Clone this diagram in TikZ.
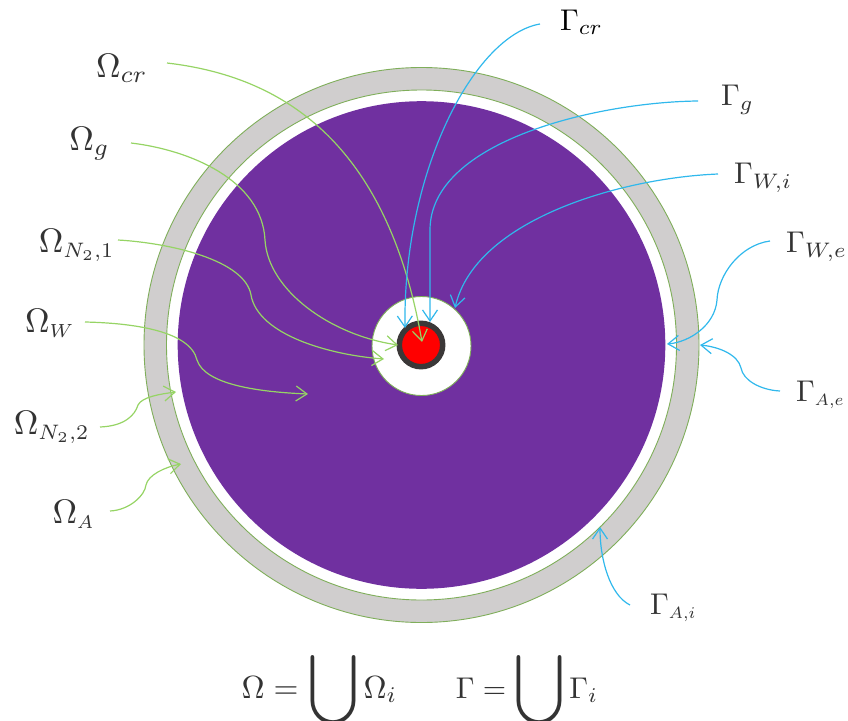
\documentclass[tikz,border=0pt]{standalone}
\usepackage{graphicx}
\usetikzlibrary{arrows.meta}
\definecolor{gfill}{HTML}{D0CECE}
\definecolor{ringline}{HTML}{7FAE5A}
\definecolor{wall}{HTML}{7030A0}
\definecolor{clad}{HTML}{3B3838}
\definecolor{txt}{HTML}{333333}
\definecolor{garrow}{HTML}{96D465}
\definecolor{barrow}{HTML}{30B8EC}
\newcommand{\osym}[1]{\scalebox{3.4}{$#1$}}
\newcommand{\gsym}[1]{\scalebox{3}{$#1$}}
\newcommand{\subs}[2]{\scalebox{#1}{$\scriptstyle #2$}}
\newcommand{\bigU}{\raisebox{-5pt}{\scalebox{4.5}[4.95]{$\displaystyle\bigcup$}}}
\tikzset{
  lab/.style={inner sep=0pt,anchor=east,text=txt},
  labr/.style={inner sep=0pt,anchor=west,text=txt},
  eq/.style={inner sep=0pt,anchor=base,text=txt},
  ring/.style={draw=ringline,line width=0.9pt},
  greenarrow/.style={draw=garrow,line width=1.2pt,-{Straight Barb[length=11pt,width=15pt,line width=1.2pt]}},
  bluearrow/.style={draw=barrow,line width=1.2pt,-{Straight Barb[length=11pt,width=15pt,line width=1.2pt]}}
}
\begin{document}
\begin{tikzpicture}[x=1pt,y=-1pt]
\useasboundingbox (0,0) rectangle (848,720);
% discs
\filldraw[ring,fill=gfill] (421.5,345) circle[radius=277.5];
\filldraw[ring,fill=white] (421.5,345) circle[radius=255];
\fill[wall] (421.5,345) circle[radius=243.8];
\filldraw[ring,fill=white] (421.5,346) circle[radius=49.5];
\filldraw[draw=clad,fill=red,line width=5.5pt] (421,345) circle[radius=21.7];
% labels
\node[lab] (Ocr) at (148,68) {\osym{\Omega_{cr}}};
\node[lab] (Og) at (110,144) {\osym{\Omega_{g}}};
\node[lab] (On1) at (115,245) {\osym{\Omega_{\subs{.88}{N_2,1}}}};
\node[lab] (Ow) at (75,323) {\osym{\Omega_{\subs{.8}{W}}}};
\node[lab] (On2) at (90,427) {\osym{\Omega_{\subs{.88}{N_2,2}}}};
\node[lab] (Oa) at (95,514) {\osym{\Omega_{\subs{.78}{A}}}};
\node[labr,text=black] (Gcr) at (560,22) {\gsym{\Gamma_{cr}}};
\node[labr] (Gg) at (721,100) {\gsym{\Gamma_{g}}};
\node[labr] (Gwi) at (734,178) {\gsym{\Gamma_{W,i}}};
\node[labr] (Gwe) at (786,247) {\gsym{\Gamma_{W,e}}};
\node[labr] (Gae) at (796,395) {\gsym{\Gamma_{\subs{.78}{A,e}}}};
\node[labr] (Gai) at (650,608) {\gsym{\Gamma_{\subs{.78}{A,i}}}};
\node[eq] (EqO) at (319.5,698) {\scalebox{3.2}{$\Omega=$}\hspace{10pt}\bigU\hspace{5pt}\scalebox{3.2}{$\Omega_i$}};
\node[eq] (EqG) at (527,698) {\gsym{\Gamma=}\hspace{8pt}\bigU\hspace{5pt}\gsym{\Gamma_i}};
% arrow tips
\coordinate (tOcr) at (422,342);
\coordinate (tOg) at (398,345);
\coordinate (tOn1) at (384,359);
\coordinate (tOw) at (308,394);
\coordinate (tOn2) at (176,392);
\coordinate (tOa) at (181,464);
\coordinate (tGcr) at (405,328);
\coordinate (tGg) at (430,322);
\coordinate (tGwi) at (455,308);
\coordinate (tGwe) at (667,344);
\coordinate (tGae) at (700,345);
\coordinate (tGai) at (600,527);
% green connectors
\draw[greenarrow] ([shift={(19,-5)}]Ocr.east) .. controls (270,75) and (385,130) .. (tOcr);
\draw[greenarrow] ([shift={(21,-1)}]Og.east) .. controls (190,150) and (262,180) .. (265,240) .. controls (268,290) and (330,335) .. (tOg);
\draw[greenarrow] ([shift={(3,-5)}]On1.east) .. controls (170,243) and (245,260) .. (251,295) .. controls (258,335) and (330,355) .. (tOn1);
\draw[greenarrow] ([shift={(10,-1)}]Ow.east) .. controls (130,323) and (190,330) .. (197,360) .. controls (205,385) and (260,392) .. (tOw);
\draw[greenarrow] ([shift={(10,0)}]On2.east) .. controls (125,426) and (135,415) .. (138,405) .. controls (142,397) and (160,394) .. (tOn2);
\draw[greenarrow] ([shift={(15,-3)}]Oa.east) .. controls (130,510) and (145,495) .. (146,485) .. controls (148,475) and (165,467) .. (tOa);
% blue connectors
\draw[bluearrow] ([shift={(-20,2)}]Gcr.west) .. controls (475,35) and (403,170) .. (tGcr);
\draw[bluearrow] ([shift={(-23,1)}]Gg.west) .. controls (600,102) and (430,140) .. (430,230) -- (tGg);
\draw[bluearrow] ([shift={(-16,-4)}]Gwi.west) .. controls (620,178) and (475,220) .. (tGwi);
\draw[bluearrow] ([shift={(-16,-6)}]Gwe.west) .. controls (740,245) and (718,275) .. (717,300) .. controls (715,325) and (690,342) .. (tGwe);
\draw[bluearrow] ([shift={(-16,-4)}]Gae.west) .. controls (760,390) and (743,380) .. (741,368) .. controls (738,355) and (720,347) .. (tGae);
\draw[bluearrow] ([shift={(-20,-3)}]Gai.west) .. controls (610,595) and (600,560) .. (tGai);
\end{tikzpicture}
\end{document}
